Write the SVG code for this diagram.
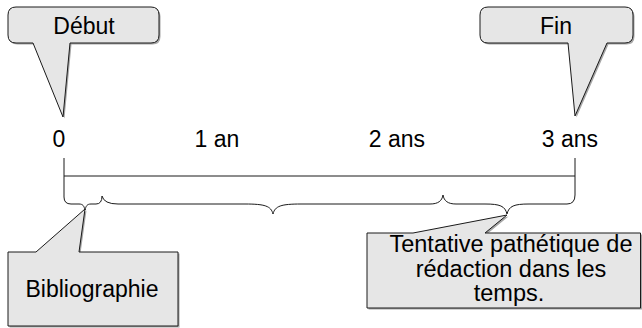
<svg xmlns="http://www.w3.org/2000/svg" width="642" height="328" viewBox="0 0 642 328">
<style>
text{font-family:"Liberation Sans",Arial,sans-serif;font-size:23px;fill:#000;text-anchor:middle}
.call{fill:#e6e6e6;stroke:#1a1a1a;stroke-width:1}
.shadow{fill:#a6a6a6;stroke:none}
.line{fill:none;stroke:#1a1a1a;stroke-width:1}
.big{font-size:23.5px}
</style>
<rect width="642" height="328" fill="#fff"/>
<g id="connectors">
<path class="line" d="M64,158 V176 H575 V158"/>
<path class="line" d="M64,176 V197 Q64,204 71,204 H79 C83,204 84,206 85,210 C86,206 87,204 91,204 H96 Q102,204 102,196"/>
<path class="line" d="M102,196 Q104,204 118,204 H245 C265,204 271,206 273,214 C275,206 281,204 301,204 H430 C438,204 442,201 443,195 C444,201 448,204 456,204 H485 C500,204 505,206 507,214 C509,206 514,204 529,204 H567 Q575,204 575,195 V176"/>
</g>
<g id="debut">
<path class="shadow" d="M17.5,8.5 H152.5 Q160.5,8.5 160.5,16.5 V36.5 Q160.5,44.5 152.5,44.5 H71.5 L64.5,118.5 L34.5,44.5 H17.5 Q9.5,44.5 9.5,36.5 V16.5 Q9.5,8.5 17.5,8.5 Z"/>
<path class="call" d="M16,7 H151 Q159,7 159,15 V35 Q159,43 151,43 H70 L63,117 L33,43 H16 Q8,43 8,35 V15 Q8,7 16,7 Z"/>
<text x="84" y="34">Début</text>
</g>
<g id="fin">
<path class="shadow" d="M489.5,8.5 H626.5 Q634.5,8.5 634.5,16.5 V36.5 Q634.5,44.5 626.5,44.5 H608.5 L576.5,117.5 L569.5,44.5 H489.5 Q481.5,44.5 481.5,36.5 V16.5 Q481.5,8.5 489.5,8.5 Z"/>
<path class="call" d="M488,7 H625 Q633,7 633,15 V35 Q633,43 625,43 H607 L575,116 L568,43 H488 Q480,43 480,35 V15 Q480,7 488,7 Z"/>
<text x="556" y="34">Fin</text>
</g>
<g id="t0"><text x="59" y="147">0</text></g>
<g id="t1"><text x="217" y="147">1 an</text></g>
<g id="t2"><text x="397" y="147">2 ans</text></g>
<g id="t3"><text x="570" y="147">3 ans</text></g>
<g id="bibliographie">
<path class="shadow" d="M9.5,253.5 H37.5 L86.5,210.5 L80.5,253.5 H179.5 V327.5 H9.5 Z"/>
<path class="call" d="M8,252 H36 L85,209 L79,252 H178 V326 H8 Z"/>
<text x="92" y="297">Bibliographie</text>
</g>
<g id="tentative">
<path class="shadow" d="M368.5,234.5 H414.5 L508.5,216.5 L486.5,234.5 H642 V309.5 H368.5 Z"/>
<path class="call" d="M367,233 H413 L507,215 L485,233 H640.5 V308 H367 Z"/>
<text class="big" x="511" y="252">Tentative pathétique de</text>
<text class="big" x="511" y="277">rédaction dans les</text>
<text class="big" x="509" y="301">temps.</text>
</g>
</svg>
